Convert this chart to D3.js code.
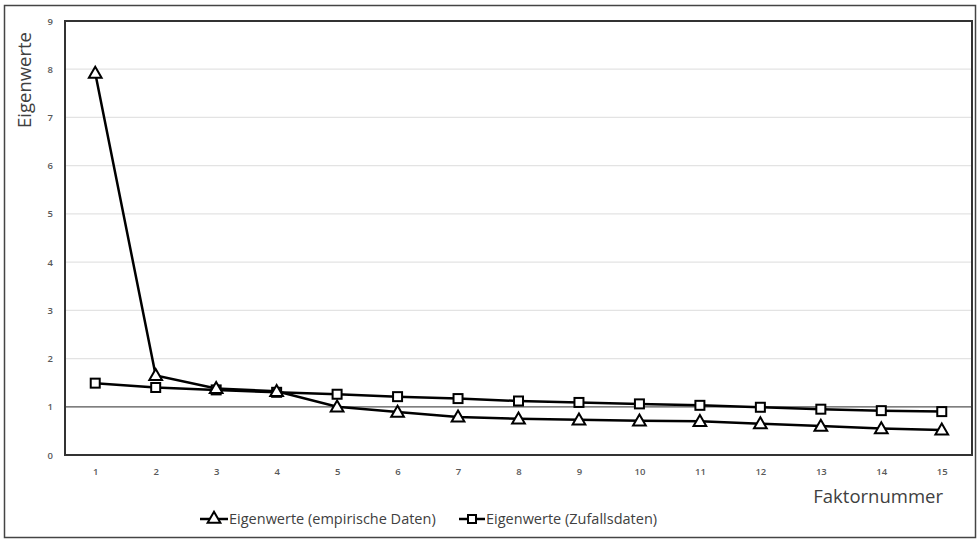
<!DOCTYPE html>
<html>
<head>
<meta charset="utf-8">
<script src="https://cdn.jsdelivr.net/npm/d3@7"></script>
<style>
  body { margin: 0; background: #fff; }
  text { font-family: "Open Sans", sans-serif; }
</style>
</head>
<body>
<script>
// Data
var faktoren = [1, 2, 3, 4, 5, 6, 7, 8, 9, 10, 11, 12, 13, 14, 15];
var empirisch = [7.92, 1.65, 1.38, 1.32, 1.00, 0.89, 0.79, 0.75, 0.73, 0.71, 0.70, 0.65, 0.60, 0.55, 0.52];
var zufall = [1.49, 1.40, 1.35, 1.30, 1.26, 1.21, 1.17, 1.12, 1.09, 1.06, 1.03, 0.99, 0.95, 0.92, 0.90];
var yTicks = [0, 1, 2, 3, 4, 5, 6, 7, 8, 9];

var svgWidth = 977;
var svgHeight = 539;

var margin = { top: 21, right: 5, bottom: 84, left: 65 };
var chartWidth = svgWidth - margin.left - margin.right;
var chartHeight = svgHeight - margin.top - margin.bottom;

var svg = d3.select("body")
    .append("svg")
    .attr("width", svgWidth)
    .attr("height", svgHeight);

// outer frame
svg.append("rect")
    .attr("x", 4.5).attr("y", 5.5)
    .attr("width", 971).attr("height", 532)
    .attr("fill", "none")
    .attr("stroke", "#444")
    .attr("stroke-width", 1.5);

var chartGroup = svg.append("g")
    .attr("transform", `translate(${margin.left},${margin.top})`);

var x = d3.scalePoint()
    .domain(faktoren)
    .range([0, chartWidth])
    .padding(0.5);

var y = d3.scaleLinear()
    .domain([0, 9])
    .range([chartHeight, 0]);

// gridlines
chartGroup.selectAll(".grid")
    .data(yTicks.filter(d => d > 1 && d < 9))
    .enter()
    .append("line")
    .attr("x1", 0).attr("x2", chartWidth)
    .attr("y1", d => y(d)).attr("y2", d => y(d))
    .attr("stroke", "#e3e3e3")
    .attr("stroke-width", 1.2);

// reference line at 1
chartGroup.append("line")
    .attr("x1", 0).attr("x2", chartWidth)
    .attr("y1", y(1)).attr("y2", y(1))
    .attr("stroke", "#555")
    .attr("stroke-width", 1.2);

// plot frame
chartGroup.append("rect")
    .attr("x", 0).attr("y", 0)
    .attr("width", chartWidth).attr("height", chartHeight)
    .attr("fill", "none")
    .attr("stroke", "#333")
    .attr("stroke-width", 2);

// y axis
var leftAxis = d3.axisLeft(y).tickValues(yTicks).tickSize(0).tickPadding(12);
var yAxisGroup = chartGroup.append("g").call(leftAxis);
yAxisGroup.select(".domain").remove();
yAxisGroup.selectAll("text")
    .attr("fill", "#595959")
    .style("font-size", "9.5px")
    .style("font-weight", "600");

// x axis
var bottomAxis = d3.axisBottom(x).tickSize(0).tickPadding(13);
var xAxisGroup = chartGroup.append("g")
    .attr("transform", `translate(0, ${chartHeight})`)
    .call(bottomAxis);
xAxisGroup.select(".domain").remove();
xAxisGroup.selectAll("text")
    .attr("fill", "#595959")
    .style("font-size", "9.5px")
    .style("font-weight", "600");

// axis titles
svg.append("text")
    .attr("transform", "translate(31, 80) rotate(-90)")
    .attr("text-anchor", "middle")
    .attr("fill", "#404040")
    .style("font-size", "18.5px")
    .text("Eigenwerte");

svg.append("text")
    .attr("x", 943).attr("y", 503)
    .attr("text-anchor", "end")
    .attr("fill", "#404040")
    .style("font-size", "18.5px")
    .text("Faktornummer");

// lines
var line = d3.line()
    .x((d, i) => x(faktoren[i]))
    .y(d => y(d));

chartGroup.append("path")
    .datum(zufall)
    .attr("d", line)
    .attr("fill", "none")
    .attr("stroke", "#000")
    .attr("stroke-width", 2.5);

chartGroup.append("path")
    .datum(empirisch)
    .attr("d", line)
    .attr("fill", "none")
    .attr("stroke", "#000")
    .attr("stroke-width", 2.5);

var triangle = d3.symbol().type(d3.symbolTriangle).size(70);

chartGroup.selectAll(".sq")
    .data(zufall)
    .enter()
    .append("rect")
    .attr("x", (d, i) => x(faktoren[i]) - 4.5)
    .attr("y", d => y(d) - 4.5)
    .attr("width", 9).attr("height", 9)
    .attr("fill", "#fff")
    .attr("stroke", "#000")
    .attr("stroke-width", 2);

chartGroup.selectAll(".tri")
    .data(empirisch)
    .enter()
    .append("path")
    .attr("d", triangle)
    .attr("transform", (d, i) => `translate(${x(faktoren[i])}, ${y(d) + 1})`)
    .attr("fill", "#fff")
    .attr("stroke", "#000")
    .attr("stroke-width", 2);

// legend
var legend = svg.append("g");
legend.append("line")
    .attr("x1", 200).attr("x2", 228).attr("y1", 519).attr("y2", 519)
    .attr("stroke", "#000").attr("stroke-width", 2.5);
legend.append("path")
    .attr("d", triangle)
    .attr("transform", "translate(214, 519)")
    .attr("fill", "#fff").attr("stroke", "#000").attr("stroke-width", 2);
legend.append("text")
    .attr("x", 229).attr("y", 524)
    .attr("fill", "#404040")
    .style("font-size", "14.5px")
    .text("Eigenwerte (empirische Daten)");

legend.append("line")
    .attr("x1", 459).attr("x2", 485).attr("y1", 519).attr("y2", 519)
    .attr("stroke", "#000").attr("stroke-width", 2.5);
legend.append("rect")
    .attr("x", 468).attr("y", 515)
    .attr("width", 8).attr("height", 8)
    .attr("fill", "#fff").attr("stroke", "#000").attr("stroke-width", 2);
legend.append("text")
    .attr("x", 486).attr("y", 524)
    .attr("fill", "#404040")
    .style("font-size", "14.5px")
    .text("Eigenwerte (Zufallsdaten)");
</script>
</body>
</html>
